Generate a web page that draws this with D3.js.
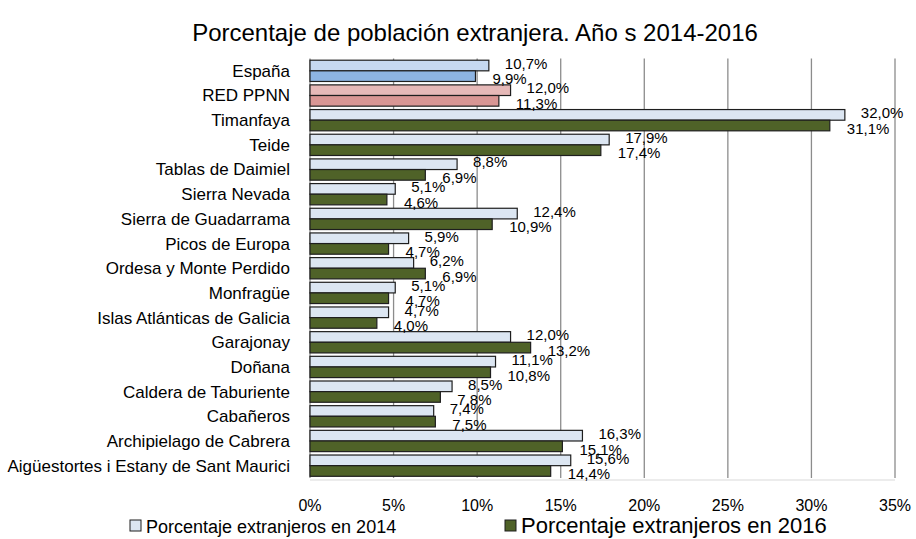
<!DOCTYPE html>
<html>
<head>
<meta charset="utf-8">
<script src="https://cdn.jsdelivr.net/npm/d3@7"></script>
<style>
  body { margin: 0; background: #fff; }
  svg { display: block; }
</style>
</head>
<body>
<svg id="chart" width="916" height="539"></svg>
<script>
const categories = [
    "España", "RED PPNN", "Timanfaya", "Teide", "Tablas de Daimiel", "Sierra Nevada",
    "Sierra de Guadarrama", "Picos de Europa", "Ordesa y Monte Perdido", "Monfragüe",
    "Islas Atlánticas de Galicia", "Garajonay", "Doñana", "Caldera de Taburiente",
    "Cabañeros", "Archipielago de Cabrera", "Aigüestortes i Estany de Sant Maurici"
]
const values2014 = [10.7, 12.0, 32.0, 17.9, 8.8, 5.1, 12.4, 5.9, 6.2, 5.1, 4.7, 12.0, 11.1, 8.5, 7.4, 16.3, 15.6]
const values2016 = [9.9, 11.3, 31.1, 17.4, 6.9, 4.6, 10.9, 4.7, 6.9, 4.7, 4.0, 13.2, 10.8, 7.8, 7.5, 15.1, 14.4]
const xTicks = [0, 5, 10, 15, 20, 25, 30, 35]
const seriesNames = ["Porcentaje extranjeros en 2014", "Porcentaje extranjeros en 2016"]

const FONT = "'Liberation Sans', Arial, sans-serif"
const LEFT = 310, RIGHT = 895, TOP = 58.5, BOTTOM = 478

// special colours for the first two rows
const fill2014 = ["#c6d9f1", "#e6b9b8"]
const fill2016 = ["#8db4e2", "#d99694"]

const svg = d3.select("#chart")

const xScale = d3.scaleLinear().domain([0, 35]).range([LEFT, RIGHT])
const yScale = d3.scaleBand().domain(categories).range([TOP, BOTTOM])
const yInner = d3.scaleBand().domain([0, 1]).range([0, yScale.bandwidth()]).paddingOuter(0.16)

// title
svg.append("text")
    .attr("x", 475)
    .attr("y", 41)
    .attr("text-anchor", "middle")
    .style("font-family", FONT)
    .style("font-size", "24px")
    .style("fill", "#000")
    .text("Porcentaje de población extranjera. Año s 2014-2016");

// grid
svg.append("g")
    .selectAll("line")
    .data(xTicks.slice(1))
    .enter()
    .append("line")
    .attr("x1", d => xScale(d))
    .attr("x2", d => xScale(d))
    .attr("y1", TOP)
    .attr("y2", BOTTOM)
    .style("stroke", "#8c8c8c")
    .style("stroke-width", 1.3);

// bottom + left axis lines
svg.append("line")
    .attr("x1", LEFT).attr("x2", RIGHT)
    .attr("y1", BOTTOM + 2).attr("y2", BOTTOM + 2)
    .style("stroke", "#d9d9d9");
svg.append("line")
    .attr("x1", LEFT).attr("x2", LEFT)
    .attr("y1", TOP).attr("y2", BOTTOM)
    .style("stroke", "#8c8c8c")
    .style("stroke-width", 1.3);

// x tick labels
svg.append("g")
    .selectAll("text")
    .data(xTicks)
    .enter()
    .append("text")
    .attr("x", d => xScale(d))
    .attr("y", 511)
    .attr("text-anchor", "middle")
    .style("font-family", FONT)
    .style("font-size", "16px")
    .text(d => d + "%");

// category labels
svg.append("g")
    .selectAll("text")
    .data(categories)
    .enter()
    .append("text")
    .attr("x", 290)
    .attr("y", d => yScale(d) + yScale.bandwidth() / 2)
    .attr("dy", "0.35em")
    .attr("text-anchor", "end")
    .style("font-family", FONT)
    .style("font-size", "17px")
    .text(d => d);

const rows = categories.map((c, i) => ({cat: c, i: i, v14: values2014[i], v16: values2016[i]}))

function barFill(d, s) {
    if (d.i < 2) return s === 0 ? fill2014[d.i] : fill2016[d.i];
    return s === 0 ? "#dce6f2" : "#4f6228";
}

[0, 1].forEach(function (s) {
    svg.append("g")
        .selectAll("rect")
        .data(rows)
        .enter()
        .append("rect")
        .attr("x", xScale(0))
        .attr("y", d => yScale(d.cat) + yInner(s))
        .attr("width", d => xScale(s === 0 ? d.v14 : d.v16) - xScale(0))
        .attr("height", yInner.bandwidth())
        .style("fill", d => barFill(d, s))
        .style("stroke", "#1e1e1e")
        .style("stroke-width", 1.2);
});

// data labels (Excel style, just past the bar end)
const fmt = v => v.toFixed(1).replace(".", ",") + "%";
[0, 1].forEach(function (s) {
    svg.append("g")
        .selectAll("text")
        .data(rows)
        .enter()
        .append("text")
        .attr("x", d => xScale(s === 0 ? d.v14 : d.v16) + (s === 0 ? 16 : 17))
        .attr("y", d => yScale(d.cat) + yInner(s) + yInner.bandwidth() / 2 + (s === 0 ? -2 : 3))
        .attr("dy", "0.35em")
        .style("font-family", FONT)
        .style("font-size", "15px")
        .text(d => fmt(s === 0 ? d.v14 : d.v16));
});

// legend
const legend = svg.append("g")
const legendX = [130, 505]
const legendSize = [18, 22]
seriesNames.forEach(function (name, i) {
    legend.append("rect")
        .attr("x", legendX[i])
        .attr("y", 520)
        .attr("width", 11)
        .attr("height", 11)
        .style("fill", i === 0 ? "#dce6f2" : "#4f6228")
        .style("stroke", "#1e1e1e")
        .style("stroke-width", 1);
    legend.append("text")
        .attr("x", legendX[i] + 16)
        .attr("y", 533)
        .style("font-family", FONT)
        .style("font-size", legendSize[i] + "px")
        .text(name);
});
</script>
</body>
</html>
